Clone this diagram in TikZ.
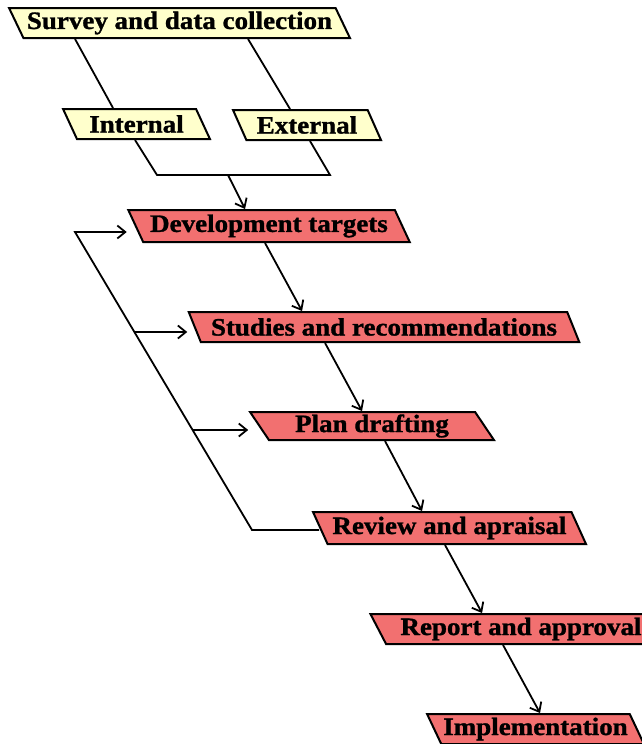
\documentclass[tikz,border=0pt]{standalone}
\usepackage{fontspec}
\setmainfont{Liberation Serif}[FakeStretch=1.08, BoldFeatures={FakeBold=1.2}]
\usepackage{xcolor}
\usepackage{tikz}
\usetikzlibrary{shapes.geometric, arrows.meta}
\definecolor{datafill}{RGB}{255, 255, 204}
\definecolor{stepfill}{RGB}{242, 112, 112}

\begin{document}
\begin{tikzpicture}[x=1pt, y=-1pt,
			box/.style={trapezium, trapezium left angle=118, trapezium right angle=62,
				trapezium stretches=true, draw=black, line width=2pt,
				font=\fontsize{25}{27}\selectfont\bfseries, inner sep=2pt, minimum height=30pt},
			databox/.style={box, fill=datafill},
			stepbox/.style={box, fill=stepfill},
			link/.style={line width=1.8pt},
			flow/.style={link, -{Straight Barb[length=8pt, width=13pt]}}]
			
			\useasboundingbox (0,0) rectangle (641,744);
			
			\node[databox, minimum width=341pt] (survey) at (179.5,23) {Survey and data collection};
			\node[databox, minimum width=147pt] (internal) at (136.5,124) {Internal};
			\node[databox, minimum width=148pt] (external) at (307,125) {External};
			
			\node[stepbox, minimum width=282pt, minimum height=32pt] (targets) at (269,226) {Development targets};
			\node[stepbox, minimum width=392pt] (studies) at (384,327) {Studies and recommendations};
			\node[stepbox, minimum width=244pt, minimum height=28pt] (drafting) at (372,426) {Plan drafting};
			\node[stepbox, minimum width=273pt, minimum height=32pt] (review) at (449.5,528) {Review and apraisal};
			\node[stepbox, minimum width=302pt] (report) at (521,629) {Report and approval};
			\node[stepbox, minimum width=217pt] (impl) at (535.5,729) {Implementation};
			
			\coordinate (jl) at (157,175);
			\coordinate (jm) at (228,175);
			\coordinate (jr) at (330,175);
			\coordinate (fbb) at (252,530);
			\coordinate (fbt) at (75,232);
			\coordinate (b1) at (135,332);
			\coordinate (b2) at (193,430);
			
			\draw[link] ([xshift=-104.5pt]survey.south) -- ([xshift=-23.5pt]internal.north);
			\draw[link] ([xshift=68.5pt]survey.south) -- ([xshift=-17pt]external.north);
			\draw[link] ([xshift=-1.5pt]internal.south) -- (jl) -- (jr) -- ([xshift=3pt]external.south);
			\draw[flow] (jm) -- ([xshift=-24pt]targets.north);
			
			\draw[flow] ([xshift=-4pt]targets.south) -- ([xshift=-82pt]studies.north);
			\draw[flow] ([xshift=-59pt]studies.south) -- ([xshift=-10pt]drafting.north);
			\draw[flow] ([xshift=13pt]drafting.south) -- ([xshift=-27.5pt]review.north);
			\draw[flow] ([xshift=-4.5pt]review.south) -- ([xshift=-39pt]report.north);
			\draw[flow] ([xshift=-18pt]report.south) -- ([xshift=4.5pt]impl.north);
			
			\draw[flow] ([yshift=-2pt]review.west) -- (fbb) -- (fbt) -- (fbt -| targets.top left corner);
			\draw[flow] (b1) -- (b1 -| studies.top left corner);
			\draw[flow] (b2) -- (b2 -| drafting.top left corner);
		\end{tikzpicture}
\end{document}
